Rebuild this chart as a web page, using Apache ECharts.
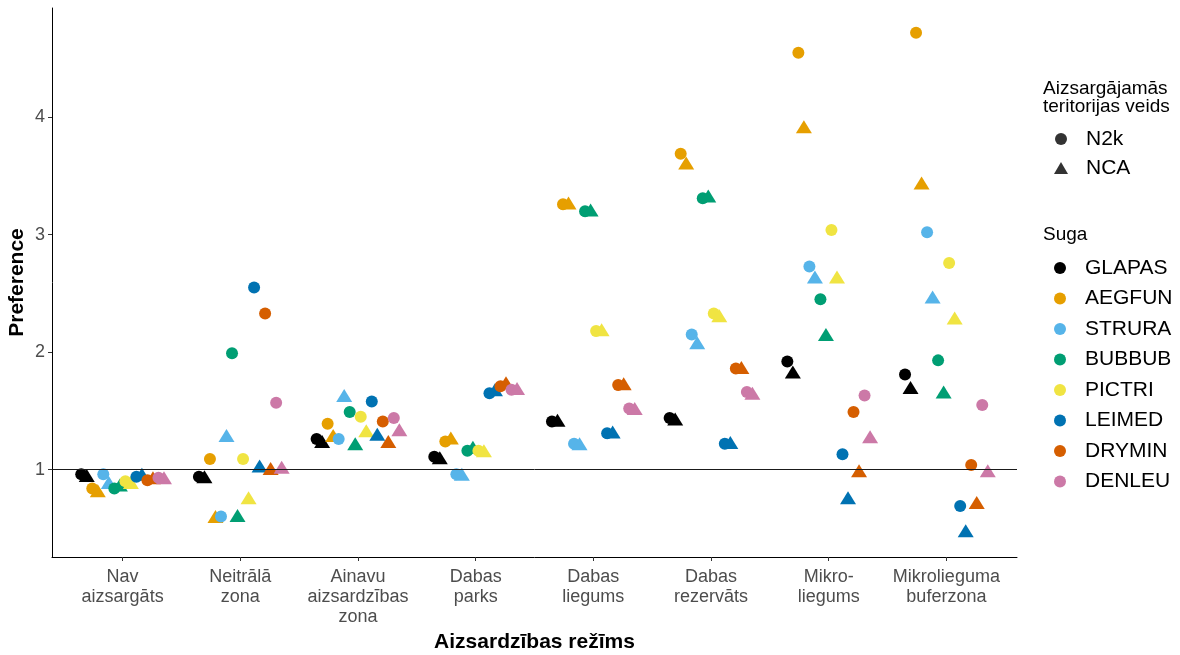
<!DOCTYPE html>
<html>
<head>
<meta charset="utf-8">
<script src="https://cdn.jsdelivr.net/npm/echarts@6/dist/echarts.min.js"></script>
<style>
  html, body { margin: 0; padding: 0; background: #ffffff; }
  #chart { width: 1180px; height: 655px; }
</style>
</head>
<body>
<div id="chart"></div>
<script>
// Protection regimes (x axis)
const regimes = [
  'Nav\naizsargāts',
  'Neitrālā\nzona',
  'Ainavu\naizsardzības\nzona',
  'Dabas\nparks',
  'Dabas\nliegums',
  'Dabas\nrezervāts',
  'Mikro-\nliegums',
  'Mikroliegumа\nbuferzona'
];
const yTicks = [1, 2, 3, 4];
const baseline = 1;

// Area types (shape) and species (colour)
const areaTypes = ['N2k', 'NCA'];
const species = ['GLAPAS', 'AEGFUN', 'STRURA', 'BUBBUB', 'PICTRI', 'LEIMED', 'DRYMIN', 'DENLEU'];
const speciesColors = ['#000000', '#E69F00', '#56B4E9', '#009E73', '#F0E442', '#0072B2', '#D55E00', '#CC79A7'];

// Preference per regime, one array per species and area type
const glapasN2k = [0.96, 0.94, 1.26, 1.11, 1.41, 1.44, 1.92, 1.81];
const glapasNCA = [0.95, 0.94, 1.24, 1.10, 1.42, 1.43, 1.83, 1.70];
const aegfunN2k = [0.84, 1.09, 1.39, 1.24, 3.26, 3.69, 4.55, 4.72];
const aegfunNCA = [0.82, 0.60, 1.29, 1.27, 3.27, 3.61, 3.92, 3.44];
const struraN2k = [0.96, 0.60, 1.26, 0.96, 1.22, 2.15, 2.73, 3.02];
const struraNCA = [0.89, 1.29, 1.63, 0.96, 1.22, 2.08, 2.64, 2.47];
const bubbubN2k = [0.84, 1.99, 1.49, 1.16, 3.20, 3.31, 2.45, 1.93];
const bubbubNCA = [0.87, 0.61, 1.22, 1.19, 3.21, 3.33, 2.15, 1.66];
const pictriN2k = [0.90, 1.09, 1.45, 1.16, 2.18, 2.33, 3.04, 2.76];
const pictriNCA = [0.89, 0.76, 1.33, 1.16, 2.19, 2.31, 2.64, 2.29];
const leimedN2k = [0.94, 2.55, 1.58, 1.65, 1.31, 1.22, 1.13, 0.69];
const leimedNCA = [0.96, 1.03, 1.30, 1.68, 1.32, 1.23, 0.76, 0.48];
const dryminN2k = [0.91, 2.33, 1.41, 1.71, 1.72, 1.86, 1.49, 1.04];
const dryminNCA = [0.93, 1.01, 1.24, 1.74, 1.73, 1.87, 0.99, 0.72];
const denleuN2k = [0.93, 1.57, 1.44, 1.68, 1.52, 1.66, 1.63, 1.55];
const denleuNCA = [0.93, 1.02, 1.34, 1.69, 1.52, 1.65, 1.28, 0.99];

const valuesBySpecies = [
  [glapasN2k, glapasNCA],
  [aegfunN2k, aegfunNCA],
  [struraN2k, struraNCA],
  [bubbubN2k, bubbubNCA],
  [pictriN2k, pictriNCA],
  [leimedN2k, leimedNCA],
  [dryminN2k, dryminNCA],
  [denleuN2k, denleuNCA]
];

// Dodge every species/area-type pair side by side within a regime
const dodgeWidth = 0.75;
const nSlots = species.length * areaTypes.length;
function dodgeX(regimeIdx, speciesIdx, typeIdx) {
  const slot = speciesIdx * areaTypes.length + typeIdx;
  return regimeIdx + 1 - dodgeWidth / 2 + (slot + 0.5) * dodgeWidth / nSlots;
}

const shapeOf = { N2k: 'circle', NCA: 'triangle' };
const sizeOf = { N2k: 12, NCA: [16, 13] };

const series = species.map((name, s) => {
  const data = [];
  areaTypes.forEach((type, t) => {
    valuesBySpecies[s][t].forEach((v, r) => {
      data.push({
        value: [dodgeX(r, s, t), v],
        symbol: shapeOf[type],
        symbolSize: sizeOf[type]
      });
    });
  });
  return {
    name: name,
    type: 'scatter',
    data: data,
    itemStyle: { color: speciesColors[s], opacity: 1 },
    z: 3
  };
});

// Reference line at preference = 1
series[0].markLine = {
  silent: true,
  symbol: ['none', 'none'],
  label: { show: false },
  lineStyle: { color: '#1a1a1a', width: 1, type: 'solid' },
  data: [{ yAxis: baseline }]
};

// Shape-only entries for the area-type legend
areaTypes.forEach(type => {
  series.push({ name: type, type: 'scatter', data: [], itemStyle: { color: '#000000' } });
});

const FONT = '"Liberation Sans", Arial, sans-serif';

const legendText = { fontFamily: FONT, fontSize: 21, lineHeight: 21, color: '#000000', padding: [0, 0, 0, 13] };

const option = {
  animation: false,
  backgroundColor: '#ffffff',
  textStyle: { fontFamily: FONT },
  grid: { left: 52, right: 163, top: 8, bottom: 98, outerBoundsMode: 'none', containLabel: false },
  xAxis: {
    type: 'value',
    min: 0.4,
    max: 8.6,
    name: 'Aizsardzības režīms',
    nameLocation: 'middle',
    nameGap: 75,
    nameMoveOverlap: false,
    nameTextStyle: { fontFamily: FONT, fontSize: 21, fontWeight: 'bold', color: '#000000' },
    axisLine: { show: true, onZero: false, lineStyle: { color: '#000000', width: 1 } },
    axisTick: {
      show: true, length: 4, inside: false,
      customValues: regimes.map((_, i) => i + 1),
      lineStyle: { color: '#333333', width: 1 }
    },
    axisLabel: {
      show: true,
      customValues: regimes.map((_, i) => i + 1),
      formatter: v => regimes[Math.round(v) - 1] || '',
      fontFamily: FONT, fontSize: 18, lineHeight: 20, color: '#4D4D4D', margin: 10
    },
    splitLine: { show: false }
  },
  yAxis: {
    type: 'value',
    min: 0.256,
    max: 4.93,
    name: 'Preference',
    nameLocation: 'middle',
    nameRotate: 90,
    nameGap: 24,
    nameMoveOverlap: false,
    nameTextStyle: { fontFamily: FONT, fontSize: 21, fontWeight: 'bold', color: '#000000' },
    axisLine: { show: true, onZero: false, lineStyle: { color: '#000000', width: 1 } },
    axisTick: {
      show: true, length: 4, inside: false,
      customValues: yTicks,
      lineStyle: { color: '#333333', width: 1 }
    },
    axisLabel: {
      show: true,
      customValues: yTicks,
      fontFamily: FONT, fontSize: 18, color: '#4D4D4D', margin: 7
    },
    splitLine: { show: false }
  },
  legend: [
    {
      orient: 'vertical',
      left: 1054,
      top: 128.5,
      padding: 0,
      itemWidth: 14,
      itemHeight: 12,
      itemGap: 8,
      selectedMode: false,
      textStyle: legendText,
      data: [
        { name: 'N2k', icon: 'circle', itemStyle: { color: '#000000' } },
        { name: 'NCA', icon: 'triangle', itemStyle: { color: '#000000' } }
      ]
    },
    {
      orient: 'vertical',
      left: 1054,
      top: 257.5,
      padding: 0,
      itemWidth: 14,
      itemHeight: 12,
      itemGap: 9.5,
      selectedMode: false,
      textStyle: legendText,
      data: species.map((name, s) => ({ name: name, icon: 'circle', itemStyle: { color: speciesColors[s] } }))
    }
  ],
  graphic: [
    {
      type: 'text',
      left: 1043,
      top: 79,
      style: {
        text: 'Aizsargājamās\nteritorijas veids',
        fontFamily: FONT, fontSize: 19, lineHeight: 18.5, fill: '#000000'
      }
    },
    {
      type: 'text',
      left: 1043,
      top: 225,
      style: { text: 'Suga', fontFamily: FONT, fontSize: 19, lineHeight: 19, fill: '#000000' }
    }
  ],
  series: series
};

const chart = echarts.init(document.getElementById('chart'), null, { renderer: 'canvas' });
chart.setOption(option);
</script>
</body>
</html>
